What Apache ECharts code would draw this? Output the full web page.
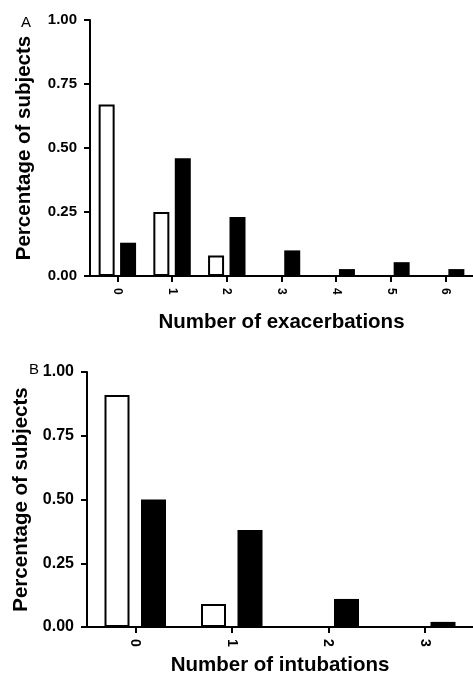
<!DOCTYPE html>
<html>
<head>
<meta charset="utf-8">
<script src="https://cdn.jsdelivr.net/npm/echarts@6/dist/echarts.min.js"></script>
<style>
  html, body { margin: 0; padding: 0; background: #fff; }
  #chart { width: 473px; height: 678px; }
</style>
</head>
<body>
<div id="chart"></div>
<script>
// Panel A: distribution of exacerbations
const exacCategories = ['0', '1', '2', '3', '4', '5', '6'];
const exacGroupOpen = [0.67, 0.25, 0.08, 0, 0, 0, 0];
const exacGroupFilled = [0.13, 0.46, 0.23, 0.10, 0.027, 0.054, 0.027];

// Panel B: distribution of intubations
const intubCategories = ['0', '1', '2', '3'];
const intubGroupOpen = [0.91, 0.09, 0, 0];
const intubGroupFilled = [0.50, 0.38, 0.11, 0.02];

const yTicks = [0, 0.25, 0.5, 0.75, 1];

const FONT = '"Liberation Sans", Arial, sans-serif';
const BLACK = '#000';
const TITLE_SIZE = 20.5;

function yAxisFor(gridIndex, labelSize) {
  return {
    type: 'value',
    gridIndex: gridIndex,
    min: yTicks[0],
    max: yTicks[yTicks.length - 1],
    interval: yTicks[1] - yTicks[0],
    name: 'Percentage of subjects',
    nameLocation: 'middle',
    nameRotate: 90,
    nameGap: 55,
    nameTextStyle: { fontFamily: FONT, fontSize: TITLE_SIZE, fontWeight: 'bold', color: BLACK },
    axisLine: { show: true, lineStyle: { color: BLACK, width: 2 } },
    axisTick: { show: true, length: 6, lineStyle: { color: BLACK, width: 2 } },
    splitLine: { show: false },
    axisLabel: {
      fontFamily: FONT, fontSize: labelSize, fontWeight: 'bold', color: BLACK, margin: 13,
      formatter: v => v.toFixed(2)
    }
  };
}

function xAxisFor(gridIndex, cats, title, gap, labelSize) {
  return {
    type: 'category',
    gridIndex: gridIndex,
    data: cats,
    name: title,
    nameLocation: 'middle',
    nameGap: gap,
    nameTextStyle: { fontFamily: FONT, fontSize: TITLE_SIZE, fontWeight: 'bold', color: BLACK },
    axisLine: { show: true, lineStyle: { color: BLACK, width: 2 } },
    axisTick: { show: true, alignWithLabel: true, length: 6, lineStyle: { color: BLACK, width: 2 } },
    axisLabel: {
      fontFamily: FONT, fontSize: labelSize, fontWeight: 'bold', color: BLACK,
      rotate: -90, margin: 12
    },
    splitLine: { show: false }
  };
}

const openStyle = { color: '#fff', borderColor: BLACK, borderWidth: 2 };
const filledStyle = { color: BLACK };
const panelLetter = { fontFamily: FONT, fontSize: 15, fontWeight: 'normal', color: BLACK };

const chart = echarts.init(document.getElementById('chart'), null, { renderer: 'canvas' });
chart.setOption({
  backgroundColor: '#fff',
  animation: false,
  title: [
    { text: 'A', left: 21, top: 15, padding: 0, textStyle: panelLetter },
    { text: 'B', left: 29, top: 362, padding: 0, textStyle: panelLetter }
  ],
  grid: [
    { left: 90, top: 20, width: 385, height: 256 },
    { left: 87, top: 372, width: 387, height: 255 }
  ],
  xAxis: [
    xAxisFor(0, exacCategories, 'Number of exacerbations', 36, 12),
    xAxisFor(1, intubCategories, 'Number of intubations', 28, 14)
  ],
  yAxis: [yAxisFor(0, 15), yAxisFor(1, 16)],
  series: [
    { name: 'Open', type: 'bar', xAxisIndex: 0, yAxisIndex: 0, data: exacGroupOpen,
      barWidth: 16, barGap: '34%', itemStyle: openStyle },
    { name: 'Filled', type: 'bar', xAxisIndex: 0, yAxisIndex: 0, data: exacGroupFilled,
      barWidth: 16, barGap: '34%', itemStyle: filledStyle },
    { name: 'Open', type: 'bar', xAxisIndex: 1, yAxisIndex: 1, data: intubGroupOpen,
      barWidth: 25, barGap: '46%', itemStyle: openStyle },
    { name: 'Filled', type: 'bar', xAxisIndex: 1, yAxisIndex: 1, data: intubGroupFilled,
      barWidth: 25, barGap: '46%', itemStyle: filledStyle }
  ]
});
</script>
</body>
</html>
